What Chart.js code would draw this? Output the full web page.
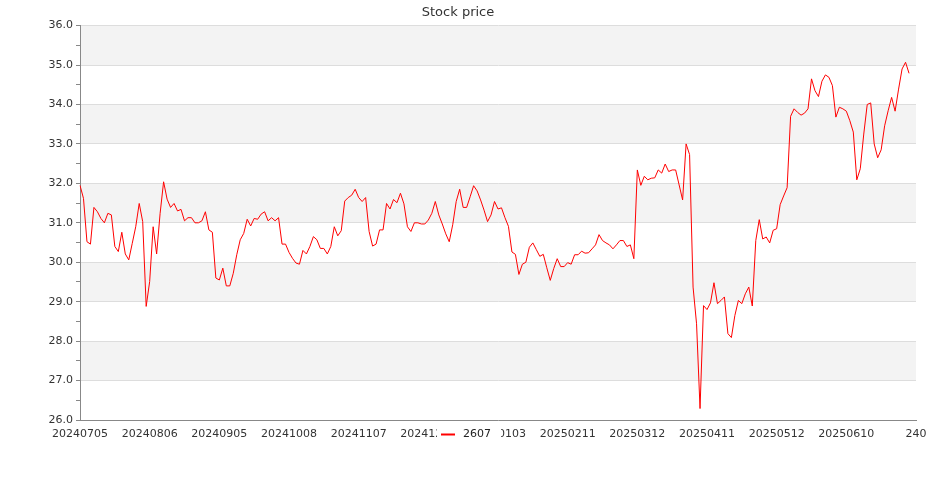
<!DOCTYPE html>
<html>
<head>
<meta charset="utf-8">
<script src="https://cdn.jsdelivr.net/npm/chart.js@4/dist/chart.umd.min.js"></script>
<style>
  html, body { margin: 0; padding: 0; background: #fff; }
  #wrap { width: 935px; height: 500px; }
</style>
</head>
<body>
<div id="wrap"><canvas id="grafica"></canvas></div>
<script>
// closing prices of 2607 (one point per trading day)
const closeA = [31.95, 31.62, 30.52, 30.46, 31.39, 31.28, 31.11, 31.0, 31.24, 31.2,
    30.4, 30.27, 30.76, 30.21, 30.06, 30.48, 30.9, 31.49, 31.03, 28.88,
    29.51, 30.9, 30.21, 31.24, 32.04, 31.6, 31.39, 31.49, 31.3, 31.34,
    31.05, 31.13, 31.13, 31.0, 31.0, 31.05, 31.28, 30.82, 30.76, 29.6,
    29.55, 29.85, 29.4, 29.4, 29.72, 30.19, 30.57, 30.73, 31.09, 30.92,
    31.11, 31.09, 31.22, 31.28, 31.05, 31.13, 31.05, 31.13, 30.46, 30.46];
const closeB = [30.25, 30.1, 29.98, 29.95, 30.3, 30.21, 30.4, 30.65, 30.57, 30.35,
    30.35, 30.21, 30.4, 30.9, 30.67, 30.8, 31.55, 31.64, 31.7, 31.85,
    31.64, 31.54, 31.64, 30.78, 30.41, 30.46, 30.82, 30.82, 31.49, 31.35,
    31.59, 31.51, 31.75, 31.48, 30.9, 30.78, 31.0, 31.0, 30.97, 30.97,
    31.07, 31.24, 31.54, 31.2, 30.97, 30.72, 30.52, 30.95, 31.54, 31.85,
    31.39, 31.39, 31.66, 31.94, 31.81, 31.58, 31.32, 31.03, 31.2, 31.54];
const closeC = [31.35, 31.38, 31.13, 30.91, 30.26, 30.2, 29.69, 29.95, 30.0, 30.38,
    30.49, 30.32, 30.15, 30.2, 29.86, 29.54, 29.84, 30.09, 29.89, 29.89,
    29.99, 29.95, 30.19, 30.19, 30.28, 30.23, 30.24, 30.34, 30.44, 30.7,
    30.55, 30.49, 30.44, 30.34, 30.44, 30.55, 30.55, 30.4, 30.44, 30.09,
    32.34, 31.95, 32.18, 32.09, 32.13, 32.14, 32.34, 32.26, 32.49, 32.3,
    32.34, 32.34, 31.96, 31.58, 33.0, 32.73, 29.37, 28.44, 26.29, 28.9];
const closeD = [28.8, 28.97, 29.48, 28.95, 29.03, 29.12, 28.19, 28.09, 28.65, 29.03,
    28.95, 29.2, 29.37, 28.89, 30.55, 31.08, 30.59, 30.64, 30.49, 30.81,
    30.85, 31.46, 31.68, 31.89, 33.7, 33.89, 33.8, 33.73, 33.78, 33.89,
    34.65, 34.35, 34.2, 34.59, 34.75, 34.69, 34.48, 33.68, 33.93, 33.89,
    33.83, 33.59, 33.3, 32.09, 32.37, 33.25, 34.0, 34.04, 33.0, 32.65,
    32.85, 33.46, 33.84, 34.18, 33.83, 34.39, 34.9, 35.07, 34.79];

// one tick label every 20 trading days
const tickLabels = ['20240705', '20240806', '20240905', '20241008', '20241107', '20241205',
    '20250103', '20250211', '20250312', '20250411', '20250512', '20250610', '240'];
const tickEvery = 20;
const seriesName = '2607';

const precios = closeA.concat(closeB, closeC, closeD);

// category axis: 241 slots, labelled every 20th
const categorias = [];
tickLabels.forEach((lbl, k) => {
    categorias.push(lbl);
    if (k < tickLabels.length - 1) {
        for (let j = 1; j < tickEvery; j++) categorias.push('');
    }
});

const FONT = 'DejaVu Sans';

// alternating grey bands behind the grid
const bandas = {
    id: 'bandas',
    beforeDraw(chart) {
        const { ctx, chartArea, scales } = chart;
        const y = scales.y;
        ctx.save();
        ctx.fillStyle = '#f3f3f3';
        for (let v = 26; v < 36; v++) {
            if (v % 2 === 1) {
                const top = y.getPixelForValue(v + 1);
                const bot = y.getPixelForValue(v);
                ctx.fillRect(chartArea.left, top, chartArea.right - chartArea.left, bot - top);
            }
        }
        ctx.restore();
    }
};

// legend drawn on top of the x labels, like the original
const leyenda = {
    id: 'leyenda',
    afterDraw(chart) {
        const { ctx } = chart;
        const ds = chart.data.datasets[0];
        ctx.save();
        ctx.fillStyle = '#fff';
        ctx.fillRect(437, 426, 64, 17);
        ctx.strokeStyle = ds.borderColor;
        ctx.lineWidth = 2;
        ctx.beginPath();
        ctx.moveTo(441, 434.5);
        ctx.lineTo(455, 434.5);
        ctx.stroke();
        ctx.fillStyle = '#222';
        ctx.font = '11px "' + FONT + '"';
        ctx.textBaseline = 'middle';
        ctx.textAlign = 'left';
        ctx.fillText(ds.label, 463, 434);
        ctx.restore();
    }
};

const ctx = document.getElementById('grafica').getContext('2d');
new Chart(ctx, {
    type: 'line',
    data: {
        labels: categorias,
        datasets: [{
            label: seriesName,
            data: precios,
            borderColor: '#ff0000',
            borderWidth: 1,
            pointRadius: 0,
            tension: 0,
            fill: false
        }]
    },
    options: {
        responsive: true,
        maintainAspectRatio: false,
        animation: false,
        layout: { padding: { left: 0, right: 19, top: 0, bottom: 0 } },
        plugins: {
            legend: { display: false },
            tooltip: { enabled: false },
            title: {
                display: true,
                text: 'Stock price',
                color: '#333',
                font: { family: FONT, size: 13, weight: 'normal' },
                padding: { top: 5, bottom: 5 }
            }
        },
        scales: {
            x: {
                offset: false,
                grid: { display: true, drawOnChartArea: false, drawTicks: false, color: '#888' },
                border: { display: true, color: '#888', width: 1 },
                ticks: {
                    autoSkip: false,
                    maxRotation: 0,
                    minRotation: 0,
                    padding: 8,
                    color: '#333',
                    font: { family: FONT, size: 11 }
                },
                afterFit(scale) { scale.height = 80; }
            },
            y: {
                min: 26,
                max: 36,
                grid: {
                    color: (c) => (c.tick && c.tick.value % 1 === 0 ? '#dddddd' : 'rgba(0,0,0,0)'),
                    tickColor: '#888',
                    tickLength: 4,
                    lineWidth: 1
                },
                border: { display: true, color: '#888', width: 1 },
                ticks: {
                    stepSize: 0.5,
                    padding: 3,
                    color: '#333',
                    font: { family: FONT, size: 11 },
                    callback: (v) => (v % 1 === 0 ? v.toFixed(1) : '')
                },
                afterFit(scale) { scale.width = 80; }
            }
        }
    },
    plugins: [bandas, leyenda]
});
</script>
</body>
</html>
